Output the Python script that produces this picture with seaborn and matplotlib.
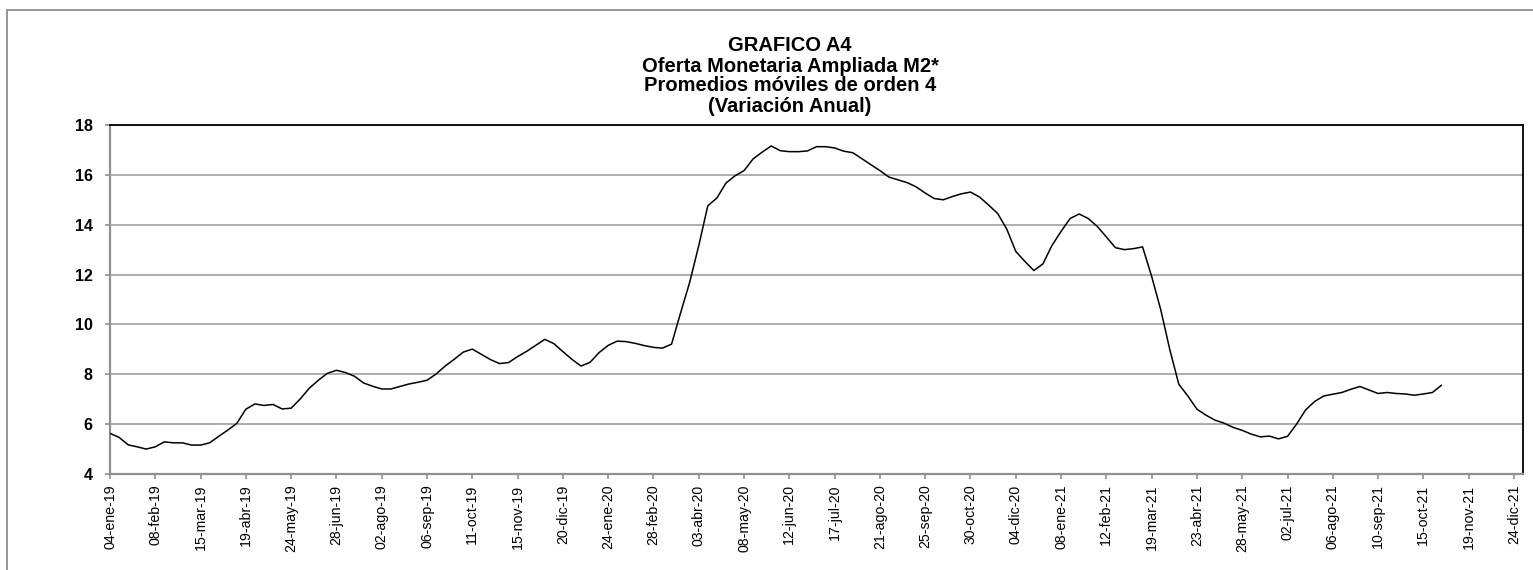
import numpy as np
import pandas as pd
import matplotlib
matplotlib.use("Agg")
import matplotlib.pyplot as plt
import seaborn as sns
from matplotlib.lines import Line2D

# ---------------- data ----------------
start_date = "2019-01-04"
m2_values = [
    5.63, 5.47, 5.17, 5.09, 5.00, 5.09, 5.29, 5.25, 5.25, 5.16,
    5.16, 5.25, 5.51, 5.76, 6.03, 6.60, 6.81, 6.75, 6.79, 6.61,
    6.64, 7.01, 7.44, 7.76, 8.04, 8.16, 8.07, 7.92, 7.65, 7.52,
    7.41, 7.41, 7.51, 7.61, 7.68, 7.76, 8.01, 8.33, 8.60, 8.89,
    9.01, 8.80, 8.59, 8.43, 8.47, 8.71, 8.92, 9.16, 9.40, 9.23,
    8.91, 8.60, 8.33, 8.48, 8.87, 9.16, 9.33, 9.31, 9.24, 9.15,
    9.08, 9.05, 9.21, 10.47, 11.69, 13.16, 14.76, 15.07, 15.67, 15.96,
    16.17, 16.64, 16.91, 17.16, 16.97, 16.93, 16.93, 16.96, 17.13, 17.13,
    17.08, 16.95, 16.89, 16.65, 16.41, 16.17, 15.91, 15.80, 15.69, 15.52,
    15.27, 15.05, 15.00, 15.13, 15.24, 15.31, 15.11, 14.79, 14.45, 13.83,
    12.93, 12.53, 12.16, 12.43, 13.17, 13.73, 14.25, 14.43, 14.25, 13.93,
    13.51, 13.08, 13.00, 13.04, 13.11, 11.93, 10.60, 9.00, 7.60, 7.13,
    6.60, 6.36, 6.16, 6.04, 5.87, 5.75, 5.60, 5.49, 5.52, 5.41,
    5.51, 6.00, 6.57, 6.91, 7.13, 7.20, 7.27, 7.40, 7.51, 7.37,
    7.23, 7.27, 7.23, 7.21, 7.16, 7.21, 7.27, 7.56,
]
dates = pd.date_range(start_date, periods=len(m2_values), freq="7D")

tick_labels = [
    "04-ene-19", "08-feb-19", "15-mar-19", "19-abr-19", "24-may-19", "28-jun-19",
    "02-ago-19", "06-sep-19", "11-oct-19", "15-nov-19", "20-dic-19", "24-ene-20",
    "28-feb-20", "03-abr-20", "08-may-20", "12-jun-20", "17-jul-20", "21-ago-20",
    "25-sep-20", "30-oct-20", "04-dic-20", "08-ene-21", "12-feb-21", "19-mar-21",
    "23-abr-21", "28-may-21", "02-jul-21", "06-ago-21", "10-sep-21", "15-oct-21",
    "19-nov-21", "24-dic-21",
]
tick_dates = pd.date_range(start_date, periods=len(tick_labels), freq="35D")
y_ticks = [4, 6, 8, 10, 12, 14, 16, 18]

title_lines = [
    "GRAFICO A4",
    "Oferta Monetaria Ampliada M2*",
    "Promedios móviles de orden 4",
    "(Variación Anual)",
]

df = pd.DataFrame({"fecha": dates, "valor": m2_values})

# ---------------- style ----------------
sns.set_style("white")
plt.rcParams["font.family"] = ["Liberation Sans", "DejaVu Sans"]

W, H = 1533, 570
fig = plt.figure(figsize=(W / 100, H / 100), dpi=100)
ax_left, ax_right, ax_top, ax_bottom = 110, 1523, 125, 474
ax = fig.add_axes([ax_left / W, 1 - ax_bottom / H,
                   (ax_right - ax_left) / W, (ax_bottom - ax_top) / H])

sns.lineplot(data=df, x="fecha", y="valor", ax=ax, color="black",
             linewidth=1.1, zorder=3)

ax.set_xlim(pd.Timestamp(start_date), pd.Timestamp(start_date) + pd.Timedelta(days=7 * 156))
ax.set_ylim(4, 18)
ax.set_yticks(y_ticks)
ax.set_yticklabels([str(v) for v in y_ticks], fontsize=11.5, fontweight="bold")
ax.set_xticks(tick_dates)
ax.set_xticklabels(tick_labels, rotation=90, fontsize=10.2)
ax.set_xlabel("")
ax.set_ylabel("")

ax.grid(axis="y", color="#a0a0a0", linewidth=1.2, zorder=1)
ax.grid(axis="x", visible=False)
ax.set_axisbelow(True)

for side in ["top", "right"]:
    ax.spines[side].set_color("black")
    ax.spines[side].set_linewidth(1.3)
for side in ["left", "bottom"]:
    ax.spines[side].set_color("#909090")
    ax.spines[side].set_linewidth(1.6)

ax.tick_params(axis="y", which="major", direction="out", length=3.5, width=1.2,
               color="#909090", pad=9, left=True, labelcolor="black")
ax.tick_params(axis="x", which="major", direction="out", length=3.5, width=1.2,
               color="#909090", pad=4, bottom=True, labelcolor="black")

# title lines
title_x = 790
baselines = [51, 71.5, 91.5, 111.5]
for txt, yb in zip(title_lines, baselines):
    fig.text(title_x / W, 1 - yb / H, txt, ha="center", va="baseline",
             fontsize=14.5, fontweight="bold", color="black")

# outer chart frame (left and top edges visible)
fig.add_artist(Line2D([7 / W, 7 / W], [0, 1 - 10 / H], transform=fig.transFigure,
                      color="#8c8c8c", linewidth=1.3))
fig.add_artist(Line2D([7 / W, 1], [1 - 10 / H, 1 - 10 / H], transform=fig.transFigure,
                      color="#8c8c8c", linewidth=1.3))

fig.savefig("out.png", dpi=100, facecolor="white")
